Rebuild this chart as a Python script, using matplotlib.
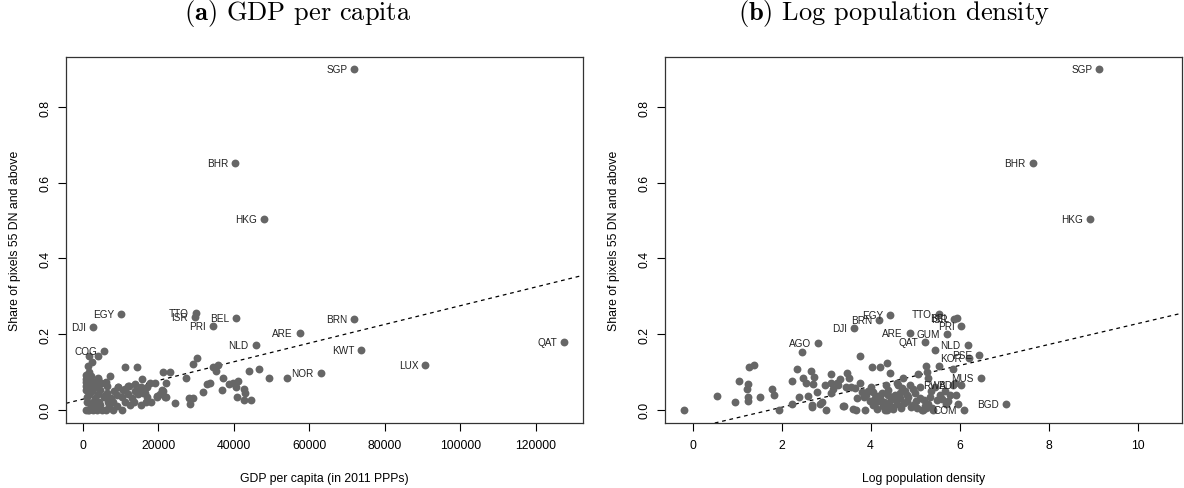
import matplotlib
matplotlib.use("Agg")
import matplotlib.pyplot as plt

plt.rcParams['font.family'] = ['Liberation Sans', 'DejaVu Sans']
plt.rcParams['mathtext.fontset'] = 'cm'

# panel (a): labelled countries, GDP per capita vs share of bright pixels
gdp_lab = ['SGP', 'BHR', 'HKG', 'EGY', 'TTO', 'ISR', 'BEL', 'PRI', 'DJI', 'BRN',
           'ARE', 'NLD', 'KWT', 'QAT', 'LUX', 'NOR', 'COG']
gdp_lab_x = [72000, 40300, 48000, 10200, 30000, 29700, 40700, 34500, 2700, 72000,
             57500, 45800, 73800, 127500, 90800, 63000, 5600]
gdp_lab_y = [0.900, 0.652, 0.505, 0.252, 0.256, 0.245, 0.243, 0.222, 0.218, 0.240,
             0.203, 0.171, 0.158, 0.178, 0.117, 0.096, 0.154]

# panel (a): unlabelled countries
gdp_x = [1000, 1500, 1700, 2700, 3700, 5100, 6100, 8100, 10300,
         2200, 3300, 4700, 7100, 9100, 12600, 15400,
         1200, 2600, 4400, 6600, 8100, 11100, 13600, 16800, 18200, 24500, 28400,
         1200, 3200, 5600, 7500, 10400, 13100, 17000, 19800, 22000,
         1800, 4000, 6500, 9000, 12000, 14600, 16000, 20500,
         1000, 2500, 4700, 8200, 10800, 13900, 21000,
         800, 2000, 3800, 6400, 9400, 12000, 15400,
         900, 1700, 2900, 4800, 6200,
         1000, 4000, 1000, 2300, 1600, 2400,
         1750, 4130, 1480, 1100, 1940, 4130, 7200, 11200, 14450,
         5900, 9400, 11200, 15600, 17800, 19100, 12350, 13850, 15200, 16500, 17000,
         19600, 21200, 23000, 22100, 21200, 21800, 27400, 28200, 29300, 29100,
         30400, 31800, 32800, 33700, 34400, 35900, 35300, 37100, 36800, 38800,
         39700, 41200, 40800, 40600, 42800, 43000, 42800, 44500, 44100, 46700,
         49300, 54100]
gdp_y = [0.000, 0.000, 0.000, 0.000, 0.000, 0.000, 0.000, 0.000, 0.000,
         0.011, 0.010, 0.012, 0.011, 0.010, 0.012, 0.013,
         0.020, 0.021, 0.020, 0.021, 0.020, 0.021, 0.020, 0.020, 0.021, 0.017, 0.016,
         0.033, 0.032, 0.033, 0.031, 0.034, 0.032, 0.033, 0.034, 0.033,
         0.042, 0.041, 0.043, 0.040, 0.042, 0.041, 0.045, 0.042,
         0.051, 0.050, 0.052, 0.049, 0.051, 0.050, 0.053,
         0.062, 0.060, 0.061, 0.063, 0.060, 0.062, 0.061,
         0.073, 0.072, 0.074, 0.071, 0.073,
         0.081, 0.083, 0.091, 0.089, 0.099, 0.126,
         0.143, 0.143, 0.115, 0.090, 0.081, 0.082, 0.088, 0.112, 0.112,
         0.072, 0.059, 0.054, 0.082, 0.070, 0.070, 0.063, 0.067, 0.054, 0.045, 0.059,
         0.037, 0.099, 0.100, 0.072, 0.050, 0.033, 0.085, 0.032, 0.032, 0.121,
         0.137, 0.048, 0.068, 0.070, 0.112, 0.117, 0.103, 0.083, 0.053, 0.067,
         0.072, 0.075, 0.035, 0.059, 0.054, 0.045, 0.027, 0.027, 0.102, 0.108,
         0.085, 0.085]
gdp_fit = (0.0279, 2.47e-6)

# panel (b): labelled countries, log population density vs share
den_lab = ['SGP', 'BHR', 'HKG', 'EGY', 'BRN', 'DJI', 'AGO', 'ARE', 'GUM', 'QAT',
           'TTO', 'ISR', 'BEL', 'PRI', 'NLD', 'PSE', 'KOR', 'MUS', 'BGD', 'COM',
           'RWA', 'BDI']
den_lab_x = [9.14, 7.64, 8.93, 4.44, 4.19, 3.63, 2.81, 4.88, 5.71, 5.22,
             5.53, 5.88, 5.93, 6.04, 6.18, 6.44, 6.21, 6.47, 7.04, 6.09,
             5.86, 6.04]
den_lab_y = [0.900, 0.652, 0.505, 0.251, 0.238, 0.217, 0.176, 0.203, 0.199, 0.178,
             0.254, 0.241, 0.243, 0.221, 0.170, 0.144, 0.138, 0.083, 0.014, 0.000,
             0.065, 0.065]

# panel (b): unlabelled countries
den_x = [-0.19, 0.54, 0.95, 1.04, 1.22, 1.25, 1.25, 1.25, 1.27, 1.38, 1.51, 1.78,
         1.83, 1.95, 2.23, 2.23, 2.35, 2.46, 2.47, 2.40, 2.60, 2.65, 2.73, 2.71,
         2.69, 2.69, 2.79, 2.86, 2.97, 3.00, 3.10, 3.12, 3.16, 3.27, 3.31, 3.37,
         3.48, 3.51, 3.61, 3.67, 3.76, 3.76, 3.80, 3.87, 3.99, 4.03, 4.20, 4.37,
         4.43, 4.06, 4.17, 4.21, 4.29, 4.36, 4.40, 4.51, 4.59, 4.62, 4.73, 4.77,
         4.81, 4.88, 4.96, 5.03, 5.07, 5.17, 5.24, 5.27, 5.29, 5.29, 5.33, 5.41,
         5.45, 5.45, 5.54, 5.56, 5.67, 5.69, 5.84, 5.78, 5.92, 5.97,
         3.40, 3.55, 3.70, 3.90, 4.00, 4.10, 4.15, 4.25, 4.30, 4.32, 4.45, 4.48,
         4.55, 4.65, 4.68, 4.70, 4.85, 4.90, 5.00, 5.10, 5.20, 5.25, 5.35, 5.50,
         3.85, 3.95, 4.05, 4.12, 4.22, 4.28, 4.38, 4.42, 4.50, 4.58, 4.66, 4.75,
         4.82, 4.95, 5.05, 5.12, 5.22, 5.38, 5.60, 5.75, 3.10, 3.25, 3.45, 2.90,
         2.55, 3.65, 4.00, 4.35, 4.60, 5.15, 5.90]
den_y = [0.000, 0.036, 0.021, 0.075, 0.055, 0.067, 0.033, 0.023, 0.113, 0.119, 0.034, 0.054,
         0.038, 0.000, 0.014, 0.075, 0.108, 0.152, 0.083, 0.035, 0.036, 0.102, 0.087, 0.067,
         0.013, 0.008, 0.046, 0.015, 0.066, 0.000, 0.094, 0.072, 0.054, 0.066, 0.081, 0.011,
         0.098, 0.083, 0.002, 0.000, 0.142, 0.072, 0.048, 0.000, 0.024, 0.114, 0.113, 0.124,
         0.098, 0.046, 0.037, 0.024, 0.011, 0.000, 0.051, 0.033, 0.015, 0.066, 0.084, 0.049,
         0.024, 0.066, 0.055, 0.024, 0.094, 0.000, 0.116, 0.101, 0.083, 0.015, 0.033, 0.000,
         0.061, 0.159, 0.116, 0.038, 0.050, 0.015, 0.109, 0.038, 0.038, 0.015,
         0.010, 0.060, 0.030, 0.040, 0.052, 0.030, 0.002, 0.045, 0.020, 0.000, 0.028, 0.008,
         0.040, 0.030, 0.005, 0.058, 0.035, 0.008, 0.045, 0.060, 0.025, 0.004, 0.050, 0.025,
         0.035, 0.050, 0.012, 0.020, 0.030, 0.010, 0.040, 0.018, 0.002, 0.025, 0.045, 0.018,
         0.040, 0.012, 0.005, 0.030, 0.010, 0.005, 0.028, 0.022, 0.045, 0.070, 0.060, 0.020,
         0.070, 0.058, 0.060, 0.065, 0.070, 0.000, 0.070]
den_fit = (-0.0488, 0.02765)

GREY = '#666666'

fig = plt.figure(figsize=(11.84, 4.89), dpi=100)
ax1 = fig.add_axes([66 / 1184, 65 / 489, 516.7 / 1184, 366.3 / 489])
ax2 = fig.add_axes([665 / 1184, 65 / 489, 516.7 / 1184, 366.3 / 489])


def panel(ax, xs, ys, lx, ly, labs, fit, xlim, xticks, xlabel):
    ax.scatter(xs + lx, ys + ly, s=32, color=GREY, linewidths=0, zorder=3)
    for name, x, y in zip(labs, lx, ly):
        ax.annotate(name, (x, y), xytext=(-5, 0), textcoords='offset points',
                    ha='right', va='center', fontsize=7.2, color='#222222')
    ax.axline((0, fit[0]), slope=fit[1], color='black', lw=0.9,
              linestyle=(0, (3, 3)), zorder=2)
    ax.set_xlim(*xlim)
    ax.set_ylim(-0.035, 0.933)
    ax.set_xticks(xticks)
    ax.set_yticks([0, 0.2, 0.4, 0.6, 0.8])
    ax.set_yticklabels(['0.0', '0.2', '0.4', '0.6', '0.8'], rotation=90, va='center')
    ax.tick_params(direction='out', length=5.5, width=0.8, labelsize=8.8, pad=5)
    ax.tick_params(axis='x', pad=6)
    for s in ax.spines.values():
        s.set_color('#333333')
        s.set_linewidth(0.9)
    ax.set_xlabel(xlabel, fontsize=8.8, labelpad=15)
    ax.set_ylabel('Share of pixels 55 DN and above', fontsize=8.8, labelpad=13)


panel(ax1, gdp_x, gdp_y, gdp_lab_x, gdp_lab_y, gdp_lab, gdp_fit, (-4420, 132450),
      [0, 20000, 40000, 60000, 80000, 100000, 120000], 'GDP per capita (in 2011 PPPs)')
panel(ax2, den_x, den_y, den_lab_x, den_lab_y, den_lab, den_fit, (-0.62, 10.99),
      [0, 2, 4, 6, 8, 10], 'Log population density')

fig.text(298 / 1184, 1 - 20 / 489, r'$\mathbf{(a)}$ GDP per capita', fontfamily='cmr10',
         fontsize=19, ha='center', va='baseline')
fig.text(894 / 1184, 1 - 20 / 489, r'$\mathbf{(b)}$ Log population density', fontfamily='cmr10',
         fontsize=19, ha='center', va='baseline')

fig.savefig('out.png', dpi=100)
